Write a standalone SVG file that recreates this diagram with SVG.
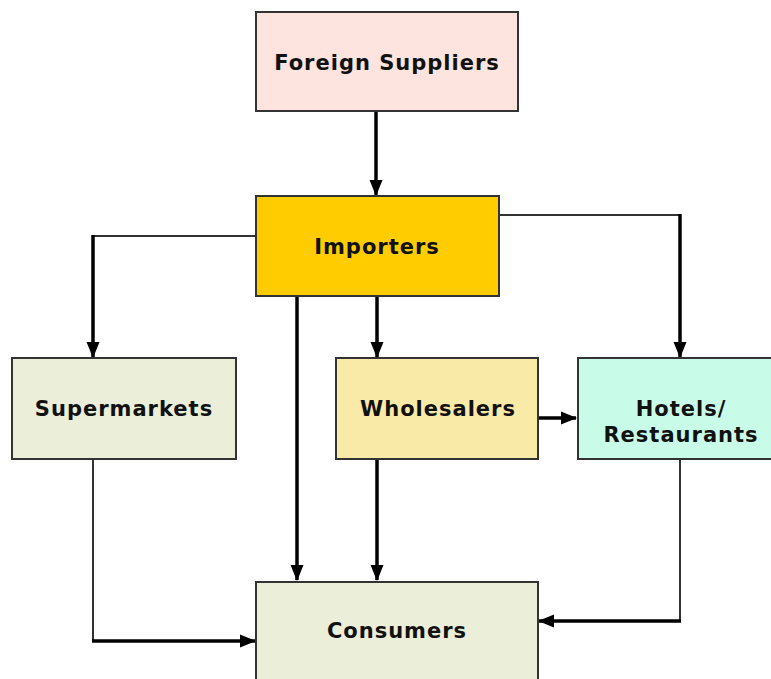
<svg xmlns="http://www.w3.org/2000/svg" width="771" height="679" viewBox="0 0 771 679">
<style>
.box{stroke:#333;stroke-width:2}
.lbl{font-family:"DejaVu Sans","Verdana",sans-serif;font-weight:bold;font-size:21px;letter-spacing:1px;fill:#111;text-anchor:middle;dominant-baseline:central}
.thin{fill:none;stroke:#333;stroke-width:2}
.thick{fill:none;stroke:#000;stroke-width:3.5}
</style>
<defs>
<marker id="ah" markerUnits="userSpaceOnUse" markerWidth="16" markerHeight="16" viewBox="0 0 16 16" refX="15" refY="8" orient="auto">
<path d="M0,1.5 L16,8 L0,14.5 Z" fill="#000"/>
</marker>
</defs>
<rect width="771" height="679" fill="#fff"/>
<g id="connectors">
<path class="thick" d="M376,111 V195" marker-end="url(#ah)"/>
<path class="thin" d="M256,236 H93"/>
<path class="thick" d="M93,235 V357" marker-end="url(#ah)"/>
<path class="thin" d="M500,215 H680"/>
<path class="thick" d="M680,214 V357" marker-end="url(#ah)"/>
<path class="thick" d="M297,296 V580" marker-end="url(#ah)"/>
<path class="thick" d="M377,296 V357" marker-end="url(#ah)"/>
<path class="thick" d="M377,459 V580" marker-end="url(#ah)"/>
<path class="thick" d="M538,418 H576" marker-end="url(#ah)"/>
<path class="thin" d="M93,459 V641"/>
<path class="thick" d="M92,641 H255" marker-end="url(#ah)"/>
<path class="thin" d="M680,459 V621"/>
<path class="thick" d="M681,621 H539" marker-end="url(#ah)"/>
</g>
<g id="foreign-suppliers">
<rect class="box" x="256" y="12" width="262" height="99" fill="#fde4de"/>
<text class="lbl" x="387" y="63">Foreign Suppliers</text>
</g>
<g id="importers">
<rect class="box" x="256" y="196" width="243" height="100" fill="#ffcc00"/>
<text class="lbl" x="377" y="247">Importers</text>
</g>
<g id="supermarkets">
<rect class="box" x="12" y="358" width="224" height="101" fill="#ebeed8"/>
<text class="lbl" x="124" y="409">Supermarkets</text>
</g>
<g id="wholesalers">
<rect class="box" x="336" y="358" width="202" height="101" fill="#faeaa8"/>
<text class="lbl" x="438" y="409">Wholesalers</text>
</g>
<g id="hotels-restaurants">
<rect class="box" x="578" y="358" width="200" height="101" fill="#c8fbe8"/>
<text class="lbl" x="681" y="409">Hotels/</text>
<text class="lbl" x="681" y="435">Restaurants</text>
</g>
<g id="consumers">
<rect class="box" x="256" y="582" width="282" height="110" fill="#ebeed8"/>
<text class="lbl" x="397" y="631">Consumers</text>
</g>
</svg>
